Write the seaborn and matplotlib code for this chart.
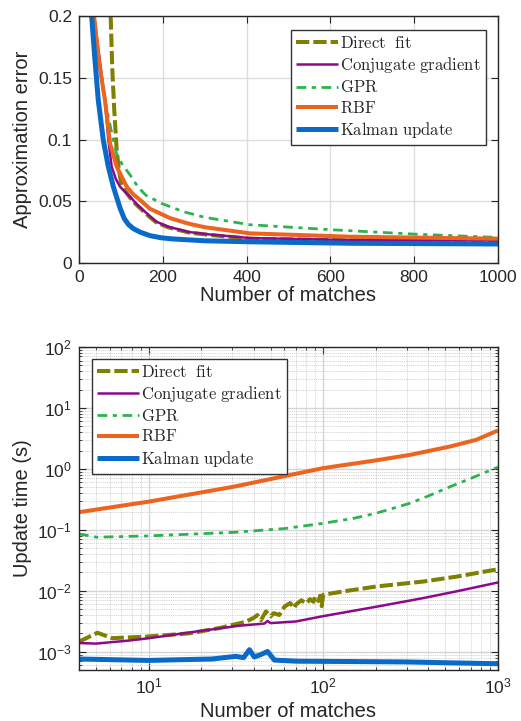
import numpy as np
import matplotlib
matplotlib.use("Agg")
import matplotlib.pyplot as plt
import seaborn as sns
from matplotlib.font_manager import FontProperties
from matplotlib.ticker import FixedLocator, FuncFormatter, LogLocator, NullFormatter

# ---------------- data: approximation error ----------------
err_direct_x = [72, 74, 75.6, 79.5, 84, 90, 95, 100, 110, 122, 137, 153, 169, 185, 213, 262, 310, 408, 647, 1000]
err_direct_y = [0.40, 0.26, 0.20, 0.157, 0.125, 0.0915, 0.076, 0.066, 0.0585, 0.0528, 0.0472, 0.0422, 0.0372, 0.0328, 0.0289, 0.0247, 0.0228, 0.0197, 0.0184, 0.0181]

err_cg_x = [5, 15, 30, 36, 62, 70, 78, 88, 98, 110, 122, 137, 153, 169, 185, 213, 262, 310, 408, 647, 1000]
err_cg_y = [0.7, 0.4, 0.23, 0.2, 0.132, 0.100, 0.078, 0.068, 0.0618, 0.0575, 0.0537, 0.048, 0.0429, 0.038, 0.0334, 0.0294, 0.0251, 0.0232, 0.0202, 0.0186, 0.0183]

err_gpr_x = [5, 15, 30, 36, 46, 56, 66, 79.5, 90, 103, 122, 140, 159, 199, 250, 300, 408, 600, 800, 1000]
err_gpr_y = [0.8, 0.45, 0.23, 0.2, 0.168, 0.143, 0.125, 0.103, 0.088, 0.080, 0.0713, 0.062, 0.055, 0.048, 0.0415, 0.037, 0.031, 0.027, 0.0234, 0.0207]

err_rbf_x = [5, 15, 30, 36, 48, 62, 74, 90, 114, 130, 146, 169, 185, 217, 260, 300, 408, 647, 1000]
err_rbf_y = [0.7, 0.4, 0.23, 0.2, 0.162, 0.132, 0.097, 0.078, 0.0618, 0.0555, 0.051, 0.044, 0.0415, 0.0364, 0.032, 0.029, 0.024, 0.0213, 0.0197]

err_kal_x = [5, 15, 28, 38, 46, 58, 70, 82, 98, 108, 118, 130, 146, 169, 195, 220, 300, 408, 647, 1000]
err_kal_y = [0.6, 0.35, 0.21, 0.165, 0.132, 0.0996, 0.078, 0.0618, 0.0445, 0.036, 0.0312, 0.0278, 0.0250, 0.0222, 0.0205, 0.0196, 0.0180, 0.0172, 0.0160, 0.0154]

# ---------------- data: update time ----------------
t_direct_x = [4, 5.1, 6.2, 9.7, 17.1, 25.5, 36, 40, 42, 44, 47, 50, 52, 56, 60, 64.7, 68, 70, 75, 80, 84, 88, 90, 94, 96, 98, 100, 131, 203, 374, 580, 1000]
t_direct_y = [1.46e-3, 2.05e-3, 1.67e-3, 1.77e-3, 2.0e-3, 2.45e-3, 3.1e-3, 3.6e-3, 4.0e-3, 3.3e-3, 4.6e-3, 3.8e-3, 4.3e-3, 4.0e-3, 5.5e-3, 6.3e-3, 5.2e-3, 6.0e-3, 7.0e-3, 6.2e-3, 7.3e-3, 6.6e-3, 8.0e-3, 6.8e-3, 8.3e-3, 5.6e-3, 8.6e-3, 9.8e-3, 0.0118, 0.0142, 0.0171, 0.0226]

t_cg_x = [4, 5.0, 7.8, 10.1, 18.8, 33, 46, 48, 50, 69.8, 98, 203, 374, 580, 1000]
t_cg_y = [1.39e-3, 1.36e-3, 1.53e-3, 1.67e-3, 2.15e-3, 2.67e-3, 2.9e-3, 3.2e-3, 2.95e-3, 3.14e-3, 3.8e-3, 5.5e-3, 7.6e-3, 9.8e-3, 0.0137]

t_gpr_x = [4, 5.05, 10, 30.7, 60, 100, 150, 200, 250, 314, 400, 532, 700, 1000]
t_gpr_y = [0.0857, 0.0758, 0.0795, 0.091, 0.105, 0.128, 0.155, 0.187, 0.225, 0.274, 0.36, 0.51, 0.70, 1.07]

t_rbf_x = [4, 10, 30.7, 100, 200, 314, 532, 750, 1000]
t_rbf_y = [0.195, 0.29, 0.51, 1.03, 1.38, 1.70, 2.33, 3.0, 4.27]

t_kal_x = [4, 10, 23, 31.6, 35, 37.8, 40.3, 44, 48, 52.5, 70, 150, 300, 1000]
t_kal_y = [7.6e-4, 7.2e-4, 7.6e-4, 8.4e-4, 8.0e-4, 1.08e-3, 8.2e-4, 9.0e-4, 1.01e-3, 7.3e-4, 7.0e-4, 6.9e-4, 6.8e-4, 6.35e-4]

labels = ["Direct fit", "Conjugate gradient", "GPR", "RBF", "Kalman update"]

# ---------------- style ----------------
sns.set_style("ticks")
plt.rcParams['font.family'] = ['Liberation Sans', 'DejaVu Sans']
plt.rcParams['axes.edgecolor'] = '#262626'
plt.rcParams['axes.linewidth'] = 1.0
plt.rcParams['xtick.color'] = '#262626'
plt.rcParams['ytick.color'] = '#262626'

C_DIRECT = '#808000'
C_CG = '#8B0A8B'
C_GPR = '#2DB34E'
C_RBF = '#EC6420'
C_KAL = '#0A6AC8'

styles = [
    dict(color=C_DIRECT, lw=2.9, ls=(0, (3.3, 1.0))),
    dict(color=C_CG, lw=1.8, ls='-'),
    dict(color=C_GPR, lw=2.0, ls=(0, (3.5, 2.0, 1.5, 2.0))),
    dict(color=C_RBF, lw=2.9, ls='-'),
    dict(color=C_KAL, lw=3.6, ls='-'),
]

fig = plt.figure(figsize=(5.21, 7.21), dpi=100)
ax1 = fig.add_axes([0.1516, 0.6352, 0.8042, 0.3426])
ax2 = fig.add_axes([0.1516, 0.0707, 0.8042, 0.4480])

leg_prop = FontProperties(size=12, math_fontfamily='cm')


def draw(ax, series):
    handles = []
    for (x, y), st, lab in zip(series, styles, labels):
        sns.lineplot(x=x, y=y, ax=ax, color=st['color'], linewidth=st['lw'],
                     estimator=None, sort=False, legend=False)
        ln = ax.lines[-1]
        ln.set_linestyle(st['ls'])
        ln.set_label(lab)
        ln.set_solid_capstyle('butt')
        ln.set_dash_capstyle('butt')
        ln.set_solid_joinstyle('round')
        handles.append(ln)
    return handles


h1 = draw(ax1, [(err_direct_x, err_direct_y), (err_cg_x, err_cg_y), (err_gpr_x, err_gpr_y),
                (err_rbf_x, err_rbf_y), (err_kal_x, err_kal_y)])
h2 = draw(ax2, [(t_direct_x, t_direct_y), (t_cg_x, t_cg_y), (t_gpr_x, t_gpr_y),
                (t_rbf_x, t_rbf_y), (t_kal_x, t_kal_y)])

leg_labels = [r'$\mathrm{Direct\ \ fit}$', r'$\mathrm{Conjugate\ gradient}$', r'$\mathrm{GPR}$',
              r'$\mathrm{RBF}$', r'$\mathrm{Kalman\ update}$']

# ---- top axes ----
ax1.set_xlim(0, 1000)
ax1.set_ylim(0, 0.2)
ax1.xaxis.set_major_locator(FixedLocator([0, 200, 400, 600, 800, 1000]))
ax1.yaxis.set_major_locator(FixedLocator([0, 0.05, 0.1, 0.15, 0.2]))
ax1.yaxis.set_major_formatter(FuncFormatter(lambda v, p: f"{v:g}"))
ax1.grid(True, color='#dedede', lw=1.0)
ax1.set_axisbelow(True)
ax1.set_xlabel("Number of matches", fontsize=14.5)
ax1.set_ylabel("Approximation error", fontsize=14.5)
ax1.xaxis.set_label_coords(0.5, -0.095)
ax1.yaxis.set_label_coords(-0.112, 0.5)
ax1.legend(h1, leg_labels, prop=leg_prop, loc='upper left', bbox_to_anchor=(0.506, 0.943),
           borderaxespad=0, handlelength=2.5, handletextpad=0.15, labelspacing=0.25,
           borderpad=0.3, fancybox=False, framealpha=1, edgecolor='#333333')
ax1.get_legend().get_frame().set_linewidth(1.0)

# ---- bottom axes ----
ax2.set_xscale('log')
ax2.set_yscale('log')
ax2.set_xlim(4, 1000)
ax2.set_ylim(10 ** -3.3, 100)
ax2.xaxis.set_major_locator(LogLocator(base=10, numticks=10))
ax2.yaxis.set_major_locator(LogLocator(base=10, numticks=10))
ax2.xaxis.set_minor_locator(LogLocator(base=10, subs=np.arange(2, 10), numticks=20))
ax2.yaxis.set_minor_locator(LogLocator(base=10, subs=np.arange(2, 10), numticks=20))
ax2.xaxis.set_minor_formatter(NullFormatter())
ax2.yaxis.set_minor_formatter(NullFormatter())
ax2.grid(True, which='major', color='#d4d4d4', lw=1.0)
ax2.grid(True, which='minor', color='#c4c4c4', lw=0.6, ls=(0, (1, 1.2)))
ax2.set_axisbelow(True)
ax2.set_xlabel("Number of matches", fontsize=14.5)
ax2.set_ylabel("Update time (s)", fontsize=14.5)
ax2.xaxis.set_label_coords(0.5, -0.098)
ax2.yaxis.set_label_coords(-0.112, 0.5)
ax2.legend(h2, leg_labels, prop=leg_prop, loc='upper left', bbox_to_anchor=(0.031, 0.963),
           borderaxespad=0, handlelength=2.5, handletextpad=0.15, labelspacing=0.25,
           borderpad=0.3, fancybox=False, framealpha=1, edgecolor='#333333')
ax2.get_legend().get_frame().set_linewidth(1.0)

for ax in (ax1, ax2):
    for s in ax.spines.values():
        s.set_visible(True)
        s.set_color('#262626')
        s.set_linewidth(1.0)
    ax.tick_params(which='major', direction='in', length=5, width=0.8, top=True, right=True,
                   labelsize=12.5, pad=5, colors='#262626')
    ax.tick_params(which='minor', direction='in', length=2.5, width=0.6, top=True, right=True)

fig.savefig("out.png", dpi=100)
